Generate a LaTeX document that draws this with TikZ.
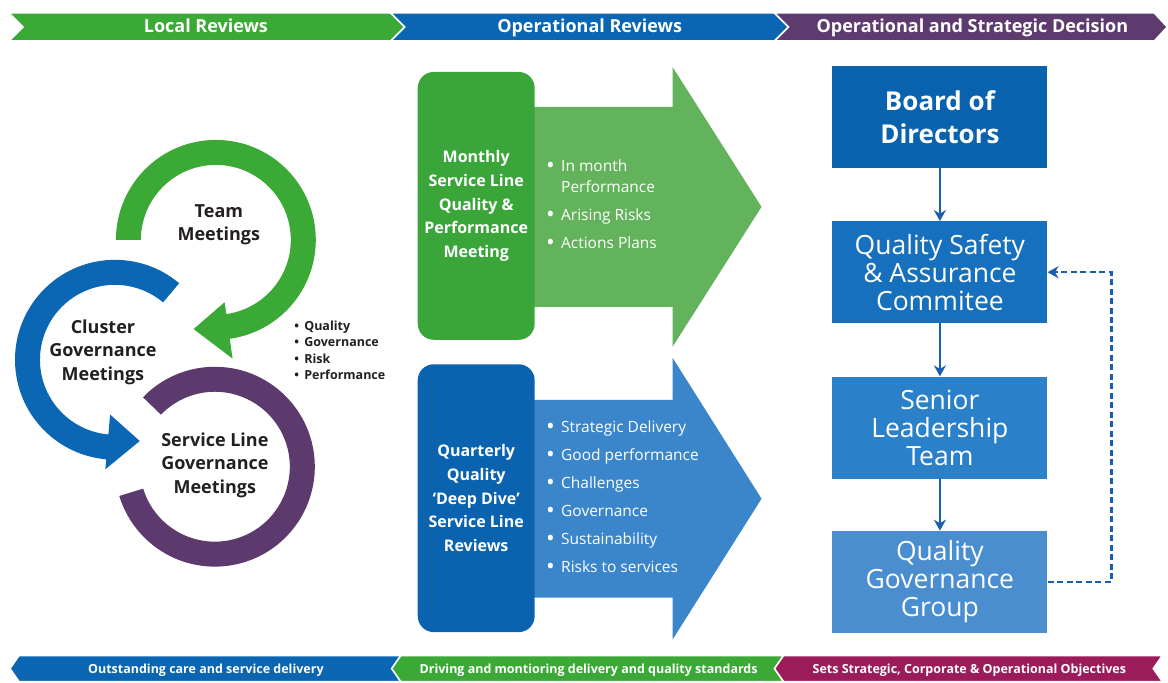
\documentclass[tikz,border=0pt]{standalone}
\usepackage{fontspec}
\setmainfont{Open Sans}
\usepackage{tikz}
\usetikzlibrary{arrows.meta, positioning, calc}
\definecolor{localgreen}{HTML}{3AA935}
\definecolor{opblue}{HTML}{0A66B2}
\definecolor{decpurple}{HTML}{5E3B6F}
\definecolor{objcrimson}{HTML}{9C1C5B}
\definecolor{ringblue}{HTML}{0B67B4}
\definecolor{ringpurple}{HTML}{5D3A6E}
\definecolor{arrowgreen}{HTML}{62B35B}
\definecolor{arrowblue}{HTML}{3B86CB}
\definecolor{boxgreen}{HTML}{3AA63A}
\definecolor{boxblue}{HTML}{0B63B0}
\definecolor{boardblue}{HTML}{0962AE}
\definecolor{qsacblue}{HTML}{1670BD}
\definecolor{sltblue}{HTML}{2A80C9}
\definecolor{qggblue}{HTML}{4A8ED0}
\definecolor{linkblue}{HTML}{1A5FAD}
\definecolor{labeltext}{HTML}{231F20}
\newcommand{\bigdot}{\makebox[15pt][l]{\raisebox{-2.4pt}{\scalebox{1.5}{\textbullet}}}}
\newcommand{\smalldot}{\makebox[10pt][l]{\textbullet}}

\begin{document}
\begin{tikzpicture}[x=1pt, y=-1pt,
  band/.style={draw=white, line width=1.5pt},
  bandtext/.style={white, anchor=base, font=\fontsize{18}{18}\selectfont\bfseries},
  foottext/.style={white, anchor=base, font=\fontsize{12.5}{12.5}\selectfont\bfseries},
  ringlabel/.style={labeltext, align=center, font=\fontsize{18}{23.5}\selectfont\bfseries},
  reviewbox/.style={rounded corners=16pt, minimum width=117pt, minimum height=268pt, text=white, align=center, inner sep=0pt, font=\fontsize{16}{23.7}\selectfont\bfseries},
  decisionbox/.style={minimum width=215pt, minimum height=102pt, text=white, align=center, inner sep=0pt, font=\fontsize{26.5}{28}\selectfont},
  link/.style={linkblue, line width=2.5pt, -{Stealth[length=11pt, width=12pt]}}]

  \fill[white] (0,0) rectangle (1168,682);

  % header and footer bands
  \fill[localgreen, band] (9,13) -- (391,13) -- (405,27) -- (391,41) -- (9,41) -- (23,27) -- cycle;
  \fill[opblue, band] (391,13) -- (775,13) -- (789,27) -- (775,41) -- (391,41) -- (405,27) -- cycle;
  \fill[decpurple, band] (775,13) -- (1155,13) -- (1168,27) -- (1155,41) -- (775,41) -- (789,27) -- cycle;
  \node[bandtext] (localhead) at (206,33) {Local Reviews};
  \node[bandtext] (ophead) at (590,33) {Operational Reviews};
  \node[bandtext] (dechead) at (973,33) {Operational and Strategic Decision};

  \fill[opblue, band] (10,669) -- (19,656) -- (401,656) -- (392,669) -- (401,682) -- (19,682) -- cycle;
  \fill[localgreen, band] (392,669) -- (401,656) -- (784,656) -- (775,669) -- (784,682) -- (401,682) -- cycle;
  \fill[objcrimson, band] (775,669) -- (784,656) -- (1163,656) -- (1154,669) -- (1163,682) -- (784,682) -- cycle;
  \node[foottext] (carefoot) at (206,674) {Outstanding care and service delivery};
  \node[foottext] (drivefoot) at (589,674) {Driving and montioring delivery and quality standards};
  \node[foottext] (setsfoot) at (970,674) {Sets Strategic, Corporate \& Operational Objectives};

  % local review cycle
  \coordinate (gc) at (216,240);
  \coordinate (bc) at (115,360);
  \coordinate (pc) at (215,467);
  \fill[localgreen] ($(gc)+(180:100)$) arc[start angle=180, end angle=442, radius=100] -- ($(gc)+(442:120)$) -- ($(gc)+(464:92)$) -- ($(gc)+(442:63)$) -- ($(gc)+(442:75)$) arc[start angle=442, end angle=180, radius=75] -- cycle;
  \fill[ringblue] ($(bc)+(-50:100)$) arc[start angle=-50, end angle=-265, radius=100] -- ($(bc)+(-265:110)$) -- ($(bc)+(-287:85)$) -- ($(bc)+(-265:55)$) -- ($(bc)+(-265:75)$) arc[start angle=-265, end angle=-50, radius=75] -- cycle;
  \fill[ringpurple] ($(pc)+(-136:100)$) arc[start angle=-136, end angle=163, radius=100] -- ($(pc)+(163:75)$) arc[start angle=163, end angle=-136, radius=75] -- cycle;

  \node[ringlabel] (team) at (219,225) {Team\\Meetings};
  \node[ringlabel] (cluster) at (103,352.5) {Cluster\\Governance\\Meetings};
  \node[ringlabel] (serviceline) at (215,465.5) {Service Line\\Governance\\Meetings};
  \node[labeltext, anchor=west, align=left, font=\fontsize{12.5}{16.3}\selectfont\bfseries] (focus) at (291,350.5)
    {\smalldot Quality\\\smalldot Governance\\\smalldot Risk\\\smalldot Performance};

  % operational reviews
  \fill[arrowgreen] (520,107) -- (673,107) -- (673,67) -- (762,207) -- (673,347) -- (673,307) -- (520,307) -- cycle;
  \fill[arrowblue] (520,400) -- (673,400) -- (673,358) -- (762,499) -- (673,640) -- (673,598) -- (520,598) -- cycle;
  \node[reviewbox, fill=boxgreen] (monthly) at (476.5,206) {Monthly\\Service Line\\Quality \&\\Performance\\Meeting};
  \node[reviewbox, fill=boxblue] (quarterly) at (476.5,498.5) {Quarterly\\Quality\\`Deep Dive'\\Service Line\\Reviews};
  \node[white, anchor=west, align=left, font=\fontsize{15.5}{21}\selectfont] (monthlist) at (543,205.5)
    {\bigdot In month\\\hspace*{15pt}Performance\\[7pt]\bigdot Arising Risks\\[7pt]\bigdot Actions Plans};
  \node[white, anchor=west, align=left, font=\fontsize{15.5}{28}\selectfont] (quarterlist) at (543,498)
    {\bigdot Strategic Delivery\\\bigdot Good performance\\\bigdot Challenges\\\bigdot Governance\\\bigdot Sustainability\\\bigdot Risks to services};

  % decisions
  \node[decisionbox, fill=boardblue, font=\fontsize{26}{33}\selectfont\bfseries] (board) at (940.5,117) {Board of\\Directors};
  \node[decisionbox, fill=qsacblue, below=53pt of board] (qsac) {Quality Safety\\\& Assurance\\Commitee};
  \node[decisionbox, fill=sltblue, below=53pt of qsac] (slt) {Senior\\Leadership\\Team};
  \node[decisionbox, fill=qggblue, below=52pt of slt] (qgg) {Quality\\Governance\\Group};

  \draw[link] (board) -- (qsac);
  \draw[link] (qsac) -- (slt);
  \draw[link] (slt) -- (qgg);
  \draw[link, dash pattern=on 6pt off 3.5pt] (qgg.east) -- ++(64,0) |- (qsac.east);
\end{tikzpicture}
\end{document}
